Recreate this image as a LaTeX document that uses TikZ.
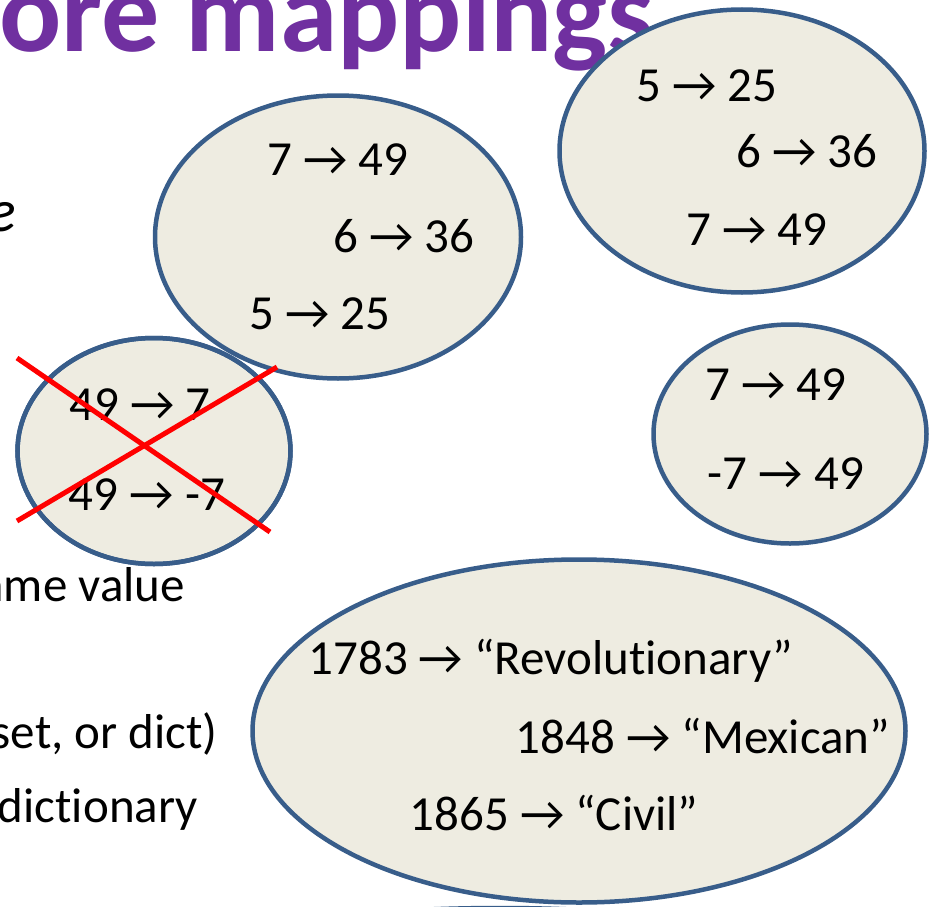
\documentclass[tikz,border=0pt]{standalone}
\usepackage{fontspec}
\setmainfont{Carlito}[Ligatures=NoCommon]
\usetikzlibrary{shapes.geometric, positioning}
\definecolor{titlepurple}{RGB}{112,48,160}
\definecolor{setblue}{RGB}{56,93,138}
\definecolor{setfill}{RGB}{238,236,225}
\newcommand{\pairfont}{\fontsize{49}{58}\selectfont}

\begin{document}
\begin{tikzpicture}[x=1pt, y=-1pt,
    mapset/.style={ellipse, draw=setblue, fill=setfill, line width=4.5pt, inner sep=0pt},
    setedge/.style={ellipse, draw=setblue, line width=4.5pt, inner sep=0pt},
    pair/.style={anchor=base, inner sep=0pt, font=\pairfont},
    bullet/.style={anchor=base east, inner sep=0pt, font=\pairfont},
    cross/.style={draw=red, line width=5pt}]
    \clip (0,0) rectangle (929,907);

    \node[anchor=base west, inner sep=0pt, text=titlepurple,
        font=\fontsize{116}{134}\selectfont\bfseries] (title) at (-1,52) {ore mappings};

    \node[bullet, font=\fontsize{60}{70}\selectfont\itshape] (lineE) at (16,231) {e};
    \node[bullet] (sameval) at (185,601) {ame value};
    \node[bullet] (setdict) at (218,748) {set, or dict)};
    \node[bullet] (dictword) at (198,822) {dictionary};

    % sets of pairs
    \node[mapset, minimum width=1100pt, minimum height=348pt] (setF) at (500,1082) {};
    \node[mapset, minimum width=653pt, minimum height=343pt] (wars) at (579,731) {};
    \node[mapset, minimum width=365pt, minimum height=283pt] (sqB) at (742,151) {};
    \node[mapset, minimum width=273pt, minimum height=219pt] (sqD) at (790,434) {};
    \node[mapset, minimum width=273pt, minimum height=226pt] (rootC) at (154,451) {};
    \node[mapset, minimum width=366pt, minimum height=283pt] (sqA) at (338,237) {};
    \node[setedge, minimum width=273pt, minimum height=226pt] (rootEdge) at (154,451) {};

    \foreach \n/\x/\y/\t in {a1/338/175/{7 → 49}, a2/404/252/{6 → 36}, a3/320/329/{5 → 25},
            b1/707/101/{5 → 25}, b2/807/167/{6 → 36}, b3/757/245/{7 → 49},
            c1/140/420/{49 → 7}, c2/147/510/{49 → -7},
            d1/776/400/{7 → 49}, d2/786/489/{-7 → 49},
            e1/551/674/{1783 → “Revolutionary”}, e2/703/753/{1848 → “Mexican”},
            e3/554/830/{1865 → “Civil”}}{
        \node[pair] (\n) at (\x,\y) {\t};
    }

    \coordinate (xa) at (17,358);
    \coordinate (xb) at (270,532);
    \coordinate (xc) at (17,521);
    \coordinate (xd) at (277,367);
    \draw[cross] (xa) -- (xb);
    \draw[cross] (xc) -- (xd);
\end{tikzpicture}
\end{document}
